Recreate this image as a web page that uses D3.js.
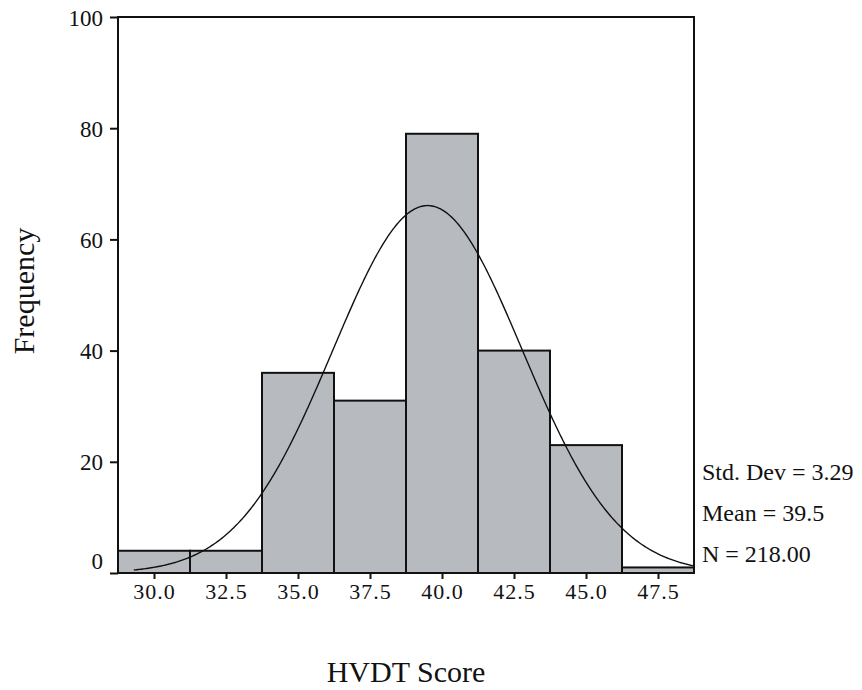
<!DOCTYPE html>
<html>
<head>
<meta charset="utf-8">
<script src="https://cdn.jsdelivr.net/npm/d3@7"></script>
<style>
  body { margin: 0; background: #fff; }
  text { font-family: "Liberation Serif", "DejaVu Serif", serif; fill: #111; }
</style>
</head>
<body>
<div class="container"></div>
<script>
// histogram bins (midpoints) and counts
var binMids = [30.0, 32.5, 35.0, 37.5, 40.0, 42.5, 45.0, 47.5];
var counts = [4, 4, 36, 31, 79, 40, 23, 1];
var yTicks = [0, 20, 40, 60, 80, 100];
var stats = { sd: 3.29, mean: 39.5, n: 218 };
var statLines = ["Std. Dev = 3.29", "Mean = 39.5", "N = 218.00"];
var binWidth = 2.5;

var margin = { top: 17, right: 168, bottom: 117, left: 118 },
    width = 862 - margin.left - margin.right,
    height = 690 - margin.top - margin.bottom;

var svg = d3.select(".container")
    .append("svg")
    .attr("width", 862)
    .attr("height", 690)
    .append("g")
    .attr("transform", "translate(" + margin.left + "," + margin.top + ")");

var x = d3.scaleLinear()
    .domain([binMids[0] - binWidth / 2, binMids[binMids.length - 1] + binWidth / 2])
    .range([0, width]);

var y = d3.scaleLinear()
    .domain([0, 100])
    .range([height, 0]);

// bars
svg.append("g")
    .selectAll("rect")
    .data(binMids)
    .enter()
    .append("rect")
    .attr("x", function (d) { return x(d - binWidth / 2); })
    .attr("y", function (d, i) { return y(counts[i]); })
    .attr("width", function (d) { return x(d + binWidth / 2) - x(d - binWidth / 2); })
    .attr("height", function (d, i) { return height - y(counts[i]); })
    .style("fill", "#b7bbbf")
    .attr("stroke", "#111")
    .attr("stroke-width", 2);

// fitted normal curve from mean / sd / N
var pts = d3.range(29.3, x.domain()[1] + 0.001, 0.05).map(function (v) {
    var z = (v - stats.mean) / stats.sd;
    return [v, stats.n * binWidth / (stats.sd * Math.sqrt(2 * Math.PI)) * Math.exp(-0.5 * z * z)];
});
svg.append("path")
    .datum(pts)
    .attr("fill", "none")
    .attr("stroke", "#111")
    .attr("stroke-width", 1.4)
    .attr("d", d3.line()
        .x(function (d) { return x(d[0]); })
        .y(function (d) { return y(d[1]); }));

// frame
svg.append("rect")
    .attr("width", width)
    .attr("height", height)
    .attr("fill", "none")
    .attr("stroke", "#111")
    .attr("stroke-width", 2);

// y axis
var yAxis = svg.append("g")
    .call(d3.axisLeft(y).tickValues(yTicks).tickSize(8).tickPadding(7).tickFormat(d3.format("d")));
yAxis.select(".domain").remove();
yAxis.selectAll("line").attr("stroke", "#111").attr("stroke-width", 2);
yAxis.selectAll("text")
    .style("font-size", "23px")
    .attr("dy", function (d) { return d === 0 ? "-0.2em" : "0.35em"; });

// x axis
var xAxis = svg.append("g")
    .attr("transform", "translate(0," + height + ")")
    .call(d3.axisBottom(x).tickValues(binMids).tickSize(6).tickPadding(4).tickFormat(d3.format(".1f")));
xAxis.select(".domain").remove();
xAxis.selectAll("line").attr("stroke", "#111").attr("stroke-width", 2);
xAxis.selectAll("text")
    .style("font-size", "22px")
    .style("letter-spacing", "1px");

// axis titles
svg.append("text")
    .attr("x", width / 2)
    .attr("y", height + 109)
    .attr("text-anchor", "middle")
    .style("font-size", "30px")
    .text("HVDT Score");

svg.append("text")
    .attr("transform", "translate(" + (-84) + "," + (291 - margin.top) + ") rotate(-90)")
    .attr("text-anchor", "middle")
    .style("font-size", "30px")
    .text("Frequency");

// stats box
svg.append("g")
    .selectAll("text")
    .data(statLines)
    .enter()
    .append("text")
    .attr("x", width + 8)
    .attr("y", function (d, i) { return 463 + i * 41; })
    .style("font-size", "24px")
    .text(function (d) { return d; });
</script>
</body>
</html>
